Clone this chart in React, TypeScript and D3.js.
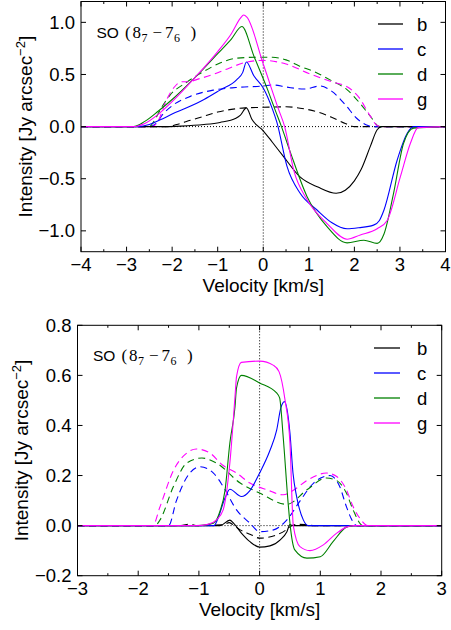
import React from "react";
import * as d3 from "d3";

// ---------------- DATA ----------------
const seriesNames = ["b", "c", "d", "g"];
const seriesColors = ["#000000", "#0000ff", "#008000", "#ff00ff"];

// Top panel: velocity (km/s) and intensity
const topBv = [-4, -2.3, -1.8, -1.3, -0.95, -0.6, -0.5, -0.37, -0.25, 0, 0.2, 0.45, 0.8, 1.2, 1.6, 1.8, 2.0, 2.15, 2.35, 2.5, 2.6, 4];
const topBi = [0, 0, 0.005, 0.02, 0.04, 0.08, 0.11, 0.18, 0.07, -0.04, -0.15, -0.29, -0.48, -0.58, -0.64, -0.61, -0.52, -0.41, -0.19, -0.03, 0, 0];
const topCv = [-4, -2.75, -2.5, -2.26, -2.0, -1.68, -1.3, -0.95, -0.58, -0.45, -0.37, -0.21, 0, 0.2, 0.3, 0.52, 0.81, 1.18, 1.5, 1.84, 2.1, 2.42, 2.55, 2.65, 2.94, 3.16, 3.3, 4];
const topCi = [0, 0, 0.02, 0.065, 0.12, 0.18, 0.26, 0.35, 0.45, 0.52, 0.62, 0.49, 0.37, 0.17, 0.04, -0.38, -0.64, -0.8, -0.92, -0.98, -0.97, -0.945, -0.9, -0.8, -0.32, -0.064, 0, 0];
const topDv = [-4, -2.85, -2.6, -2.3, -2.0, -1.5, -1.0, -0.7, -0.47, -0.2, 0.1, 0.26, 0.4, 0.59, 0.96, 1.4, 1.84, 2.21, 2.5, 2.65, 2.86, 3.08, 3.3, 4];
const topDi = [0, 0, 0.05, 0.15, 0.26, 0.47, 0.7, 0.84, 0.96, 0.67, 0.35, 0.16, 0, -0.24, -0.67, -0.96, -1.115, -1.09, -1.12, -1.03, -0.64, -0.16, -0.015, 0];
const topGv = [-4, -2.85, -2.6, -2.3, -2.0, -1.5, -1.0, -0.7, -0.5, -0.43, -0.36, 0, 0.34, 0.47, 0.67, 0.96, 1.4, 1.84, 2.13, 2.5, 2.72, 3.01, 3.23, 3.4, 4];
const topGi = [0, 0, 0.03, 0.12, 0.24, 0.47, 0.72, 0.89, 1.04, 1.07, 1.05, 0.6, 0.16, 0, -0.42, -0.7, -0.93, -1.08, -1.04, -0.98, -0.9, -0.48, -0.16, -0.01, 0];

const topBdv = [-4, -2.1, -1.9, -1.6, -1.3, -1.0, -0.7, -0.4, 0, 0.5, 0.9, 1.2, 1.5, 1.8, 2.0, 4];
const topBdi = [0, 0, 0.02, 0.06, 0.1, 0.14, 0.165, 0.18, 0.185, 0.19, 0.17, 0.14, 0.09, 0.03, 0, 0];
const topCdv = [-4, -2.5, -2.35, -2.2, -2.0, -1.6, -1.1, -0.6, 0, 0.2, 0.5, 0.9, 1.25, 1.5, 1.8, 2.05, 2.3, 2.4, 4];
const topCdi = [0, 0, 0.03, 0.12, 0.2, 0.29, 0.35, 0.375, 0.39, 0.4, 0.38, 0.36, 0.39, 0.34, 0.21, 0.08, 0.01, 0, 0];
const topDdv = [-4, -2.5, -2.4, -2.25, -2.05, -1.7, -1.3, -0.95, -0.6, -0.2, 0.2, 0.5, 0.8, 1.1, 1.5, 1.85, 2.1, 2.35, 2.55, 4];
const topDdi = [0, 0, 0.05, 0.17, 0.3, 0.42, 0.53, 0.61, 0.655, 0.665, 0.665, 0.64, 0.58, 0.53, 0.44, 0.35, 0.235, 0.1, 0, 0];
const topGdv = [-4, -2.45, -2.3, -2.15, -1.95, -1.8, -1.65, -1.4, -1.1, -0.75, -0.4, 0, 0.5, 1.0, 1.5, 1.85, 2.1, 2.35, 2.5, 2.6, 4];
const topGdi = [0, 0, 0.06, 0.23, 0.38, 0.43, 0.43, 0.46, 0.5, 0.56, 0.615, 0.635, 0.6, 0.51, 0.43, 0.38, 0.28, 0.1, 0.01, 0, 0];

// Bottom panel
const botBv = [-3, -0.65, -0.49, -0.43, -0.3, -0.16, 0, 0.17, 0.34, 0.45, 0.5, 0.55, 3];
const botBi = [0, 0, 0.022, 0.01, -0.03, -0.064, -0.086, -0.081, -0.057, -0.024, 0.004, 0, 0];
const botCv = [-3, -0.75, -0.7, -0.57, -0.49, -0.3, -0.16, 0, 0.17, 0.28, 0.35, 0.41, 0.5, 0.55, 0.61, 0.72, 0.8, 3];
const botCi = [0, 0, 0.02, 0.11, 0.145, 0.116, 0.14, 0.21, 0.3, 0.38, 0.47, 0.495, 0.37, 0.21, 0.116, 0.023, 0, 0];
const botDv = [-3, -1.0, -0.76, -0.65, -0.57, -0.49, -0.405, -0.38, -0.3, 0, 0.28, 0.33, 0.39, 0.47, 0.5, 0.58, 0.78, 1.0, 1.21, 1.43, 1.55, 3];
const botDi = [0, 0, 0.01, 0.06, 0.14, 0.33, 0.475, 0.55, 0.6, 0.57, 0.53, 0.51, 0.35, 0.09, 0.01, -0.097, -0.13, -0.124, -0.064, -0.006, 0, 0];
const botGv = [-3, -1.05, -0.85, -0.71, -0.6, -0.49, -0.405, -0.38, -0.3, 0, 0.23, 0.32, 0.42, 0.5, 0.555, 0.665, 0.83, 1.05, 1.27, 1.43, 1.55, 3];
const botGi = [0, 0, 0.005, 0.023, 0.063, 0.25, 0.515, 0.595, 0.652, 0.657, 0.64, 0.615, 0.5, 0.33, 0, -0.084, -0.1, -0.077, -0.03, -0.006, 0, 0];

const botBdv = [-3, -1.3, -1.15, -1.05, -0.6, -0.5, -0.42, -0.32, -0.15, 0, 0.28, 0.42, 0.5, 0.62, 0.75, 0.9, 3];
const botBdi = [0, 0, 0.006, 0, 0.004, 0.012, 0, -0.017, -0.035, -0.05, -0.037, -0.02, -0.005, 0.005, 0.004, 0, 0];
const botCdv = [-3, -1.5, -1.37, -1.15, -0.98, -0.76, -0.6, -0.38, -0.16, 0, 0.23, 0.45, 0.67, 0.89, 1.16, 1.32, 1.43, 1.52, 1.6, 3];
const botCdi = [0, 0, 0.1, 0.21, 0.235, 0.21, 0.156, 0.063, 0.01, -0.024, -0.017, 0.023, 0.1, 0.17, 0.2, 0.156, 0.076, 0.023, 0, 0];
const botDdv = [-3, -1.72, -1.64, -1.42, -1.2, -0.95, -0.71, -0.32, 0, 0.45, 0.78, 1.1, 1.27, 1.43, 1.54, 1.7, 3];
const botDdi = [0, 0, 0.023, 0.156, 0.25, 0.27, 0.25, 0.17, 0.13, 0.085, 0.143, 0.19, 0.18, 0.13, 0.063, 0, 0];
const botGdv = [-3, -1.76, -1.64, -1.42, -1.2, -1.04, -0.82, -0.6, -0.38, -0.16, 0.12, 0.39, 0.55, 0.78, 1.1, 1.27, 1.43, 1.54, 1.65, 1.78, 3];
const botGdi = [0, 0, 0.076, 0.22, 0.29, 0.306, 0.29, 0.24, 0.21, 0.17, 0.143, 0.123, 0.14, 0.18, 0.21, 0.196, 0.143, 0.076, 0.03, 0, 0];

const topXTicks = [-4, -3, -2, -1, 0, 1, 2, 3, 4];
const topYTicks = [-1.0, -0.5, 0.0, 0.5, 1.0];
const botXTicks = [-3, -2, -1, 0, 1, 2, 3];
const botYTicks = [-0.2, 0.0, 0.2, 0.4, 0.6, 0.8];

const zip = (v: number[], i: number[]) => v.map((x, k) => [x, i[k]] as [number, number]);

const topSolid = [zip(topBv, topBi), zip(topCv, topCi), zip(topDv, topDi), zip(topGv, topGi)];
const topDashed = [zip(topBdv, topBdi), zip(topCdv, topCdi), zip(topDdv, topDdi), zip(topGdv, topGdi)];
const botSolid = [zip(botBv, botBi), zip(botCv, botCi), zip(botDv, botDi), zip(botGv, botGi)];
const botDashed = [zip(botBdv, botBdi), zip(botCdv, botCdi), zip(botDdv, botDdi), zip(botGdv, botGdi)];

const SANS = "'Liberation Sans', Arial, sans-serif";
const SERIF = "'Liberation Serif', 'DejaVu Serif', serif";
const fmtMinus = (s: string) => s.replace("-", "\u2212");

type PanelProps = {
  x0: number; x1: number; y0: number; y1: number;
  xDomain: [number, number]; yDomain: [number, number];
  xTicks: number[]; yTicks: number[];
  solid: [number, number][][]; dashed: [number, number][][];
  legendX0: number; legendX1: number; legendTextX: number; legendY: number;
  ylabelX: number;
};

function Panel(p: PanelProps) {
  const x = d3.scaleLinear().domain(p.xDomain).range([p.x0, p.x1]);
  const y = d3.scaleLinear().domain(p.yDomain).range([p.y1, p.y0]);
  const line = d3.line<[number, number]>().x(d => x(d[0])).y(d => y(d[1])).curve(d3.curveMonotoneX);
  const minorX = d3.range(p.xDomain[0], p.xDomain[1] + 0.001, 0.5).filter(v => Math.abs(v - Math.round(v)) > 0.1);
  const major = 5, minor = 2.5;
  const cx = (p.x0 + p.x1) / 2, cy = (p.y0 + p.y1) / 2;
  const soY = p.y0 + 36;
  return (
    <g>
      <defs>
        <clipPath id={`clip${p.y0}`}>
          <rect x={p.x0} y={p.y0} width={p.x1 - p.x0} height={p.y1 - p.y0} />
        </clipPath>
      </defs>
      {/* reference dotted lines */}
      <line x1={p.x0} x2={p.x1} y1={y(0)} y2={y(0)} stroke="#000" strokeWidth={1} strokeDasharray="1,2" />
      <line x1={x(0)} x2={x(0)} y1={p.y0} y2={p.y1} stroke="#000" strokeWidth={1} strokeDasharray="1,2" />
      <g clipPath={`url(#clip${p.y0})`}>
        {p.dashed.map((s, k) => (
          <path key={"d" + k} d={line(s) || ""} fill="none" stroke={seriesColors[k]} strokeWidth={1.1} strokeDasharray="7,4.5" />
        ))}
        {p.solid.map((s, k) => (
          <path key={"s" + k} d={line(s) || ""} fill="none" stroke={seriesColors[k]} strokeWidth={1.1} />
        ))}
      </g>
      {/* frame */}
      <rect x={p.x0} y={p.y0} width={p.x1 - p.x0} height={p.y1 - p.y0} fill="none" stroke="#000" strokeWidth={1} />
      {/* x ticks */}
      {p.xTicks.map(t => (
        <g key={"xt" + t}>
          <line x1={x(t)} x2={x(t)} y1={p.y1} y2={p.y1 - major} stroke="#000" />
          <line x1={x(t)} x2={x(t)} y1={p.y0} y2={p.y0 + major} stroke="#000" />
          <text x={x(t)} y={p.y1 + 19} textAnchor="middle" fontFamily={SANS} fontSize={18.5}>{fmtMinus(String(t))}</text>
        </g>
      ))}
      {minorX.map(t => (
        <g key={"xm" + t}>
          <line x1={x(t)} x2={x(t)} y1={p.y1} y2={p.y1 - minor} stroke="#000" />
          <line x1={x(t)} x2={x(t)} y1={p.y0} y2={p.y0 + minor} stroke="#000" />
        </g>
      ))}
      {/* y ticks */}
      {p.yTicks.map(t => (
        <g key={"yt" + t}>
          <line x1={p.x0} x2={p.x0 + major} y1={y(t)} y2={y(t)} stroke="#000" />
          <line x1={p.x1} x2={p.x1 - major} y1={y(t)} y2={y(t)} stroke="#000" />
          <text x={p.x0 - 6} y={y(t) + 6.5} textAnchor="end" fontFamily={SANS} fontSize={18.5}>{fmtMinus(d3.format(".1f")(t))}</text>
        </g>
      ))}
      {/* axis labels */}
      <text x={cx} y={p.y1 + 40.5} textAnchor="middle" fontFamily={SANS} fontSize={19}>Velocity [km/s]</text>
      <text transform={`translate(${p.ylabelX},${cy}) rotate(-90)`} textAnchor="middle" fontFamily={SANS} fontSize={19}>
        Intensity [Jy arcsec<tspan dy={-7} fontSize={13}>{"\u22122"}</tspan><tspan dy={7}>]</tspan>
      </text>
      {/* SO label */}
      <g>
        <text x={p.x0 + 15.5} y={soY} fontFamily={SANS} fontSize={15.5}>SO</text>
        <text x={p.x0 + 44} y={soY} fontFamily={SERIF} fontSize={17}>(</text>
        <text x={p.x0 + 51.5} y={soY} fontFamily={SERIF} fontSize={17}>8</text>
        <text x={p.x0 + 60.5} y={soY + 4} fontFamily={SERIF} fontSize={12}>7</text>
        <text x={p.x0 + 71.5} y={soY} fontFamily={SERIF} fontSize={17}>{"\u2212"}</text>
        <text x={p.x0 + 84} y={soY} fontFamily={SERIF} fontSize={17}>7</text>
        <text x={p.x0 + 93} y={soY + 4} fontFamily={SERIF} fontSize={12}>6</text>
        <text x={p.x0 + 109.5} y={soY} fontFamily={SERIF} fontSize={17}>)</text>
      </g>
      {/* legend */}
      {seriesNames.map((n, k) => (
        <g key={"lg" + n}>
          <line x1={p.legendX0} x2={p.legendX1} y1={p.legendY + 25 * k} y2={p.legendY + 25 * k} stroke={seriesColors[k]} strokeWidth={1.3} />
          <text x={p.legendTextX} y={p.legendY + 25 * k + 6.5} fontFamily={SANS} fontSize={18.5}>{n}</text>
        </g>
      ))}
    </g>
  );
}

export default function App() {
  return (
    <svg width={451} height={630} style={{ position: "absolute", left: 0, top: 0, background: "#fff" }}>
      <rect x={0} y={0} width={451} height={630} fill="#fff" />
      <Panel x0={81} x1={445.5} y0={1.5} y1={251.7} xDomain={[-4, 4]} yDomain={[-1.2, 1.2]}
        xTicks={topXTicks} yTicks={topYTicks} solid={topSolid} dashed={topDashed}
        legendX0={378} legendX1={403} legendTextX={417} legendY={24} ylabelX={31.5} />
      <Panel x0={77.5} x1={441.7} y0={325.3} y1={575.7} xDomain={[-3, 3]} yDomain={[-0.2, 0.8]}
        xTicks={botXTicks} yTicks={botYTicks} solid={botSolid} dashed={botDashed}
        legendX0={374} legendX1={400} legendTextX={417} legendY={348} ylabelX={27.5} />
    </svg>
  );
}
